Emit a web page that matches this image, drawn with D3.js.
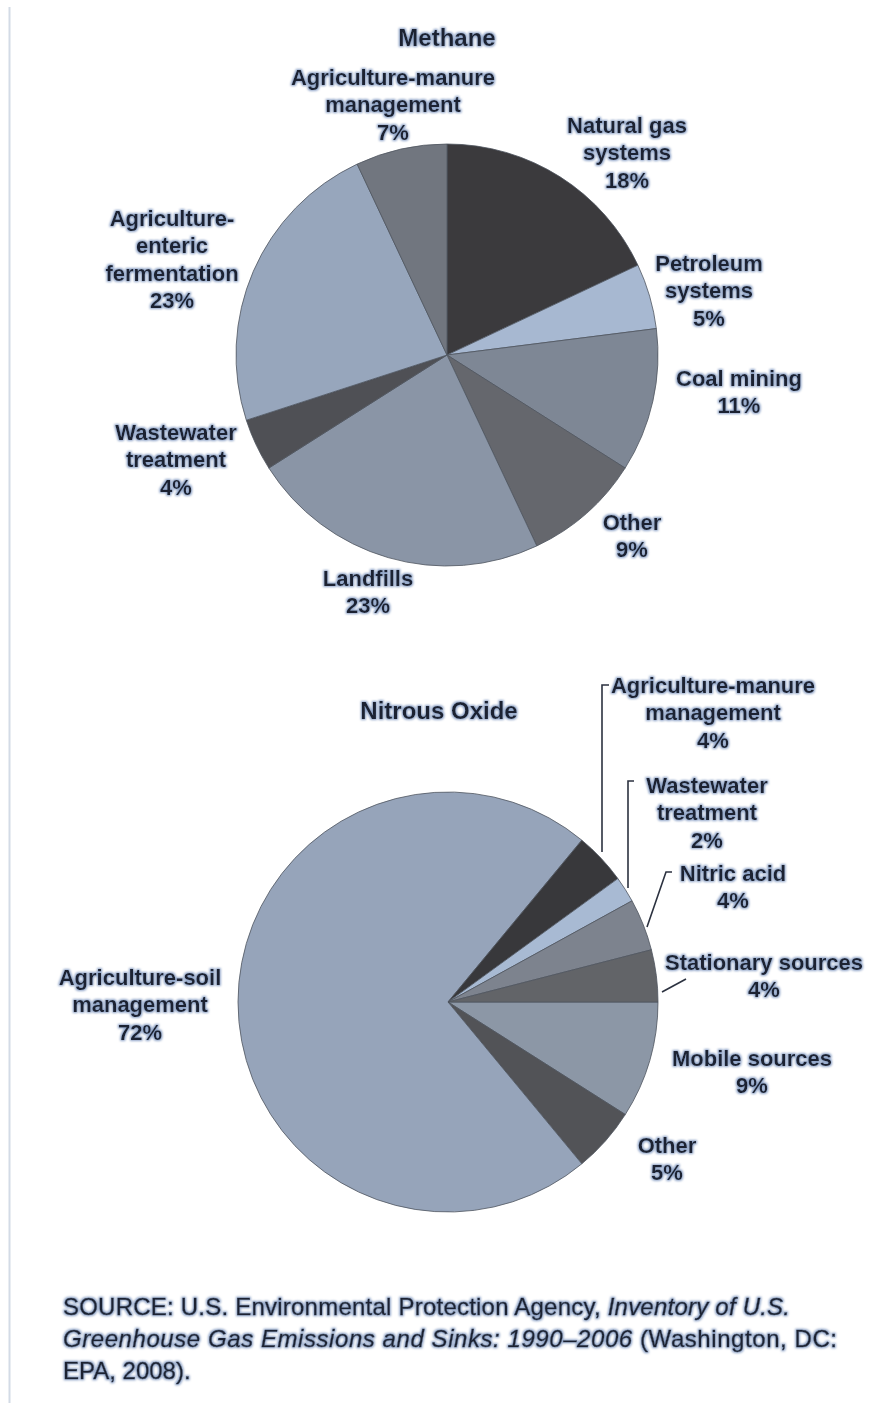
<!DOCTYPE html>
<html>
<head>
<meta charset="utf-8">
<script src="https://cdn.jsdelivr.net/npm/d3@7"></script>
<style>
body { margin: 0; background: #fff; }
text { font-family: "Liberation Sans", Arial, sans-serif; fill: #1c2333; }
</style>
</head>
<body>
<div class="main"></div>
<script>
// methane, clockwise from 12 o'clock
var methaneCategories = [["Natural gas", "systems"], ["Petroleum", "systems"], ["Coal mining"], ["Other"],
                         ["Landfills"], ["Wastewater", "treatment"], ["Agriculture-", "enteric", "fermentation"],
                         ["Agriculture-manure", "management"]];
var methaneValues = [18, 5, 11, 9, 23, 4, 23, 7];
var methaneColors = ["#3b3a3d", "#a7b8d1", "#7e8795", "#65676d", "#8a95a6", "#4f5055", "#97a6bc", "#71767f"];

// nitrous oxide, clockwise from 3 o'clock
var nitrousCategories = [["Mobile sources"], ["Other"], ["Agriculture-soil", "management"],
                         ["Agriculture-manure", "management"], ["Wastewater", "treatment"], ["Nitric acid"],
                         ["Stationary sources"]];
var nitrousValues = [9, 5, 72, 4, 2, 4, 4];
var nitrousColors = ["#8c97a6", "#525357", "#96a4ba", "#38383b", "#a8bad3", "#7d838e", "#626468"];

var titles = ["Methane", "Nitrous Oxide"];

var sourceLines = [
    [["SOURCE: U.S. Environmental Protection Agency, ", false], ["Inventory of U.S.", true]],
    [["Greenhouse Gas Emissions and Sinks: 1990\u20132006", true], [" (Washington, DC:", false]],
    [["EPA, 2008).", false]]
];

// layout (label centres, first line)
var methaneLabelPos = [[627, 125], [709, 263], [739, 378], [632, 522], [368, 578], [176, 432], [172, 218], [393, 77]];
var nitrousLabelPos = [[752, 1058], [667, 1145], [140, 977], [713, 685], [707, 785], [733, 873], [764, 962]];
var nitrousLeaders = [null, null, null,
                      [[602, 852], [602, 685], [609, 685]],
                      [[628, 888], [628, 781], [634, 781]],
                      [[647, 927], [666, 872], [672, 872]],
                      [[662, 992], [686, 979]]];
var lineH = 27.5;

const width = 881, height = 1403;

var svg = d3.select(".main").append("svg")
    .attr("width", width)
    .attr("height", height);

// blurred halo behind the text
var defs = svg.append("defs");
var f = defs.append("filter").attr("id", "halo")
    .attr("x", "-10%").attr("y", "-40%").attr("width", "120%").attr("height", "180%");
f.append("feMorphology").attr("in", "SourceAlpha").attr("operator", "dilate").attr("radius", 1.3).attr("result", "thick");
f.append("feGaussianBlur").attr("in", "thick").attr("stdDeviation", 1.2).attr("result", "blur");
f.append("feFlood").attr("flood-color", "#8ea3c7").attr("result", "col");
f.append("feComposite").attr("in", "col").attr("in2", "blur").attr("operator", "in").attr("result", "glow");
var fm = f.append("feMerge");
fm.append("feMergeNode").attr("in", "glow");
fm.append("feMergeNode").attr("in", "SourceGraphic");

// left rule
svg.append("line")
    .attr("x1", 9.5).attr("x2", 9.5)
    .attr("y1", 7).attr("y2", height)
    .attr("stroke", "#d3dbe6")
    .attr("stroke-width", 2);

function drawPie(cx, cy, r, start, cats, vals, cols, labelPos) {
    var pie = d3.pie().sort(null).startAngle(start).endAngle(start + 2 * Math.PI);
    var arc = d3.arc().innerRadius(0).outerRadius(r);
    var g = svg.append("g").attr("transform", `translate(${cx},${cy})`);
    g.selectAll("path")
        .data(pie(vals))
        .enter()
        .append("path")
        .attr("d", arc)
        .attr("fill", function(d, i) { return cols[i]; })
        .attr("stroke", "#4f5560")
        .attr("stroke-width", 0.8)
        .attr("stroke-linejoin", "round");

    var lg = svg.append("g").attr("filter", "url(#halo)");
    cats.forEach(function(c, i) {
        var lines = c.concat([vals[i] + "%"]);
        var t = lg.append("text")
            .attr("text-anchor", "middle")
            .style("font-size", "22px")
            .style("font-weight", "bold");
        lines.forEach(function(s, j) {
            t.append("tspan")
                .attr("x", labelPos[i][0])
                .attr("y", labelPos[i][1] + j * lineH)
                .attr("dy", "0.35em")
                .text(s);
        });
    });
}

drawPie(447, 355, 211, 0, methaneCategories, methaneValues, methaneColors, methaneLabelPos);
drawPie(448, 1002, 210, Math.PI / 2, nitrousCategories, nitrousValues, nitrousColors, nitrousLabelPos);

// leader lines
nitrousLeaders.forEach(function(p) {
    if (!p) return;
    svg.append("path")
        .attr("d", d3.line()(p))
        .attr("fill", "none")
        .attr("stroke", "#2c3240")
        .attr("stroke-width", 1.6);
});

// titles
var tg = svg.append("g").attr("filter", "url(#halo)");
tg.append("text")
    .attr("x", 447).attr("y", 38).attr("dy", "0.35em")
    .attr("text-anchor", "middle")
    .style("font-size", "24px").style("font-weight", "bold")
    .text(titles[0]);
tg.append("text")
    .attr("x", 439).attr("y", 711).attr("dy", "0.35em")
    .attr("text-anchor", "middle")
    .style("font-size", "24px").style("font-weight", "bold")
    .text(titles[1]);

// source note
var sourceWidths = [727, 774, null];
var sg = svg.append("g").attr("filter", "url(#halo)");
sourceLines.forEach(function(line, i) {
    var t = sg.append("text")
        .attr("x", 63)
        .attr("y", 1315 + i * 32)
        .style("font-size", "24px")
        .style("stroke", "#1c2333")
        .style("stroke-width", 0.4);
    if (sourceWidths[i]) t.attr("textLength", sourceWidths[i]).attr("lengthAdjust", "spacing");
    line.forEach(function(seg) {
        t.append("tspan")
            .style("font-style", seg[1] ? "italic" : "normal")
            .text(seg[0]);
    });
});
</script>
</body>
</html>
